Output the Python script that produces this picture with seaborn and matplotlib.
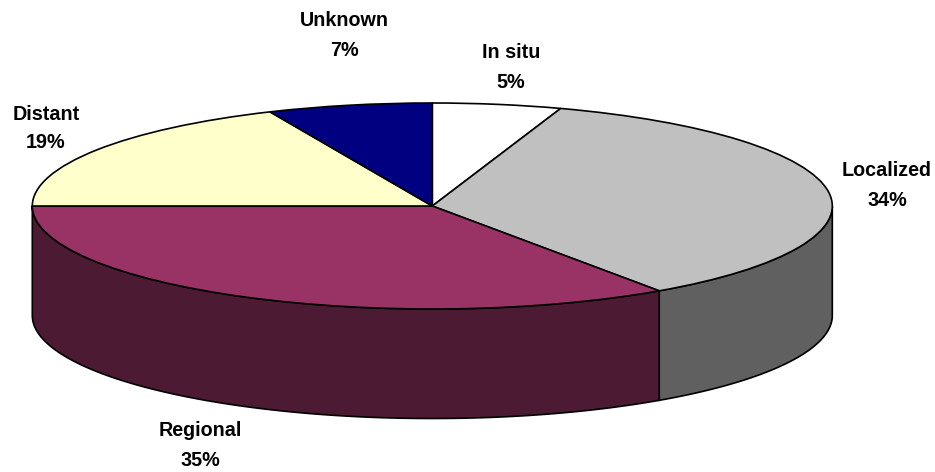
import numpy as np
import matplotlib
matplotlib.use("Agg")
import matplotlib.pyplot as plt
import seaborn as sns

categories = ["In situ", "Localized", "Regional", "Distant", "Unknown"]
percent_labels = [5, 34, 35, 19, 7]
slice_shares = [5.2, 35.2, 34.6, 18.35, 6.65]
top_colors = ["#FFFFFF", "#C0C0C0", "#993366", "#FFFFCC", "#000080"]
wall_colors = ["#808080", "#606060", "#4D1A33", "#808066", "#000040"]

sns.set_theme(style="white")
plt.rcParams["font.family"] = ["Liberation Sans Narrow", "Liberation Sans", "DejaVu Sans"]

W, H = 935, 472
CX, CY, RX, RY, DEPTH = 432.3, 206, 400, 103, 109.5
fig = plt.figure(figsize=(W / 100, H / 100), dpi=100, facecolor="white")
ax = fig.add_axes([0, 0, 1, 1])

depth = DEPTH / RY
fractions = np.cumsum([0] + slice_shares) / sum(slice_shares)
angles = 90 - 360 * fractions  # clockwise from the top

# Side wall: only the front (lower) part of each slice is visible
for i, color in enumerate(wall_colors):
    a1, a0 = angles[i], angles[i + 1]
    lo, hi = max(a0, -180), min(a1, 0)
    if hi <= lo:
        continue
    t = np.radians(np.linspace(lo, hi, 120))
    x, y = np.cos(t), np.sin(t)
    ax.fill(np.r_[x, x[::-1]], np.r_[y, y[::-1] - depth],
            facecolor=color, edgecolor="black", linewidth=1.2, zorder=1)

# Top face, through the library's pie
ax.pie(slice_shares, colors=top_colors, startangle=90, counterclock=False, radius=1,
       wedgeprops=dict(edgecolor="black", linewidth=1.2, zorder=2), normalize=True)

ax.set_aspect("auto")
ax.set_xlim((0 - CX) / RX, (W - CX) / RX)
ax.set_ylim((CY - H) / RY, CY / RY)
ax.axis("off")


def label(name, value, px, py1, py2):
    for s, py in ((name, py1), (f"{value}%", py2)):
        ax.text(px / W, 1 - py / H, s, transform=ax.transAxes, ha="center", va="center",
                fontsize=14.2, fontweight="bold", color="black", zorder=5)


label(categories[0], percent_labels[0], 511, 52, 82)
label(categories[1], percent_labels[1], 887, 171, 201)
label(categories[2], percent_labels[2], 200, 431, 461)
label(categories[3], percent_labels[3], 46, 114, 143)
label(categories[4], percent_labels[4], 344, 21, 51)

fig.savefig("out.png", dpi=100, facecolor="white")
